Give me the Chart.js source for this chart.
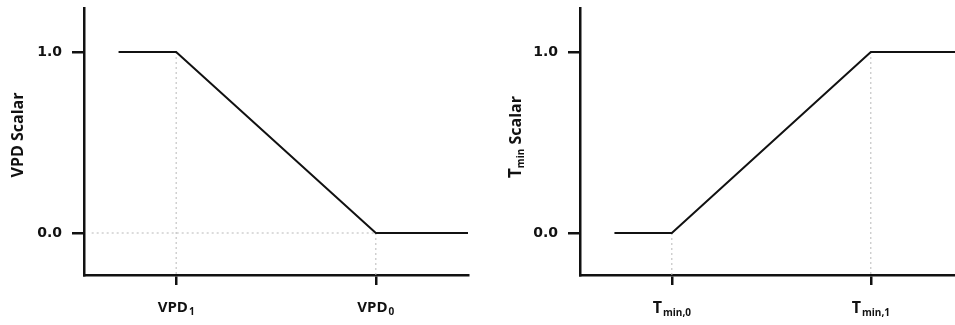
<!DOCTYPE html>
<html>
<head>
<meta charset="utf-8">
<script src="https://cdn.jsdelivr.net/npm/chart.js@4/dist/chart.umd.min.js"></script>
<style>
  html, body { margin: 0; padding: 0; background: #fff; }
  #wrap { position: relative; width: 955px; height: 325px; overflow: hidden; }
  .panel { position: absolute; top: 0; height: 325px; }
  #left { left: 0; width: 480px; }
  #right { left: 480px; width: 475px; }
</style>
</head>
<body>
<div id="wrap">
  <div class="panel" id="left"><canvas id="cVpd" width="480" height="325"></canvas></div>
  <div class="panel" id="right"><canvas id="cTmin" width="475" height="325"></canvas></div>
</div>
<script>
// VPD scalar: 1 below VPD1, falls linearly to 0 at VPD0, 0 above
const vpdX = [0.9, 2.4, 7.6, 10];
const vpdY = [1, 1, 0, 0];
const vpdTicks = [2.4, 7.6];
const vpdTickLabels = [['VPD', '1'], ['VPD', '0']];

// Tmin scalar: 0 below Tmin,0, rises linearly to 1 at Tmin,1, 1 above
const tminX = [0.9, 2.4, 7.6, 9.8];
const tminY = [0, 0, 1, 1];
const tminTicks = [2.4, 7.6];
const tminTickLabels = [['T', 'min,0'], ['T', 'min,1']];

const yTicks = [0, 1];
const yMin = -0.232, yMax = 1.243;

const INK = '#111';
const GUIDE = '#b8b8b8';
const MAIN_FONT = '"Open Sans", "DejaVu Sans", sans-serif';

// draw text with a lowered, smaller subscript part, centred on x
function drawSub(ctx, x, y, main, sub, mainSize, subSize, dy) {
  ctx.save();
  ctx.fillStyle = INK;
  ctx.textBaseline = 'alphabetic';
  ctx.textAlign = 'left';
  ctx.font = 'bold ' + mainSize + 'px ' + MAIN_FONT;
  const w1 = ctx.measureText(main).width;
  ctx.font = 'bold ' + subSize + 'px ' + MAIN_FONT;
  const w2 = ctx.measureText(sub).width;
  const x0 = x - (w1 + w2 + 1) / 2;
  ctx.font = 'bold ' + mainSize + 'px ' + MAIN_FONT;
  ctx.fillText(main, x0, y);
  ctx.font = 'bold ' + subSize + 'px ' + MAIN_FONT;
  ctx.fillText(sub, x0 + w1 + 1, y + dy);
  ctx.restore();
}

// subscripted x tick labels and the rotated y title
function labelPlugin(tickVals, tickLabels, title) {
  return {
    id: 'subLabels',
    afterDraw(chart) {
      const ctx = chart.ctx;
      const xs = chart.scales.x;
      tickVals.forEach((v, i) => {
        const px = xs.getPixelForValue(v);
        const [m, s] = tickLabels[i];
        if (m === 'T') drawSub(ctx, px, 313, m, s, 16, 10, 3);
        else drawSub(ctx, px, 312, m, s, 15, 10, 3);
      });
      ctx.save();
      ctx.translate(title.x, title.y);
      ctx.rotate(-Math.PI / 2);
      ctx.fillStyle = INK;
      ctx.textBaseline = 'middle';
      ctx.textAlign = 'left';
      const parts = title.parts;
      let total = 0;
      parts.forEach(p => { ctx.font = 'bold ' + p.size + 'px ' + MAIN_FONT; p.w = ctx.measureText(p.t).width; total += p.w; });
      let cx = -total / 2;
      parts.forEach(p => {
        ctx.font = 'bold ' + p.size + 'px ' + MAIN_FONT;
        ctx.fillText(p.t, cx, p.dy || 0);
        cx += p.w;
      });
      ctx.restore();
    }
  };
}

function guidesFrom(xs, ys) {
  // dotted drop lines from the two break points to the x axis
  const g = [];
  for (let i = 1; i <= 2; i++) {
    g.push([{ x: xs[i], y: ys[i] }, { x: xs[i], y: yMin }]);
  }
  return g;
}

function makeChart(id, xs, ys, tickVals, tickLabels, xMax, axisLeft, padRight, title, extraGuides) {
  const pts = xs.map((x, i) => ({ x, y: ys[i] }));
  const guides = guidesFrom(xs, ys).concat(extraGuides);
  const guideSets = guides.map(d => ({
    data: d, showLine: true, borderColor: GUIDE, borderWidth: 1,
    borderDash: [2, 3], pointRadius: 0, fill: false
  }));
  return new Chart(document.getElementById(id), {
    type: 'scatter',
    data: {
      datasets: [
        { data: pts, showLine: true, borderColor: INK, borderWidth: 2, pointRadius: 0, fill: false, tension: 0 }
      ].concat(guideSets)
    },
    options: {
      responsive: false,
      animation: false,
      layout: { padding: { top: 8, right: padRight, left: 0, bottom: 0 } },
      plugins: { legend: { display: false }, tooltip: { enabled: false } },
      scales: {
        x: {
          type: 'linear', min: 0, max: xMax,
          afterBuildTicks: s => { s.ticks = tickVals.map(v => ({ value: v })); },
          afterFit: s => { s.height = 50; s.paddingLeft = 0; s.paddingRight = 0; },
          border: { display: true, color: INK, width: 2.5 },
          grid: { display: true, drawOnChartArea: false, drawTicks: true, tickLength: 10, color: INK, lineWidth: 2.5 },
          ticks: { callback: () => '', padding: 0 }
        },
        y: {
          type: 'linear', min: yMin, max: yMax,
          afterBuildTicks: s => { s.ticks = yTicks.map(v => ({ value: v })); },
          afterFit: s => { s.width = axisLeft; s.paddingTop = 0; s.paddingBottom = 0; },
          border: { display: true, color: INK, width: 2.5 },
          grid: { display: true, drawOnChartArea: false, drawTicks: true, tickLength: 12, color: INK, lineWidth: 2.5 },
          ticks: {
            padding: 10, color: INK,
            font: { family: '"DejaVu Sans", sans-serif', weight: 'bold', size: 14 },
            callback: v => Number(v).toFixed(1)
          }
        }
      }
    },
    plugins: [labelPlugin(tickVals, tickLabels, title)]
  });
}

makeChart('cVpd', vpdX, vpdY, vpdTicks, vpdTickLabels, 10, 84, 12,
  { x: 18, y: 135, parts: [{ t: 'VPD Scalar', size: 16 }] },
  [[{ x: 0.2, y: 0 }, { x: vpdX[2], y: 0 }]]);

makeChart('cTmin', tminX, tminY, tminTicks, tminTickLabels, 9.8, 100, 0,
  { x: 36, y: 137, parts: [{ t: 'T', size: 17 }, { t: 'min', size: 10, dy: 5 }, { t: ' Scalar', size: 16 }] },
  []);
</script>
</body>
</html>
